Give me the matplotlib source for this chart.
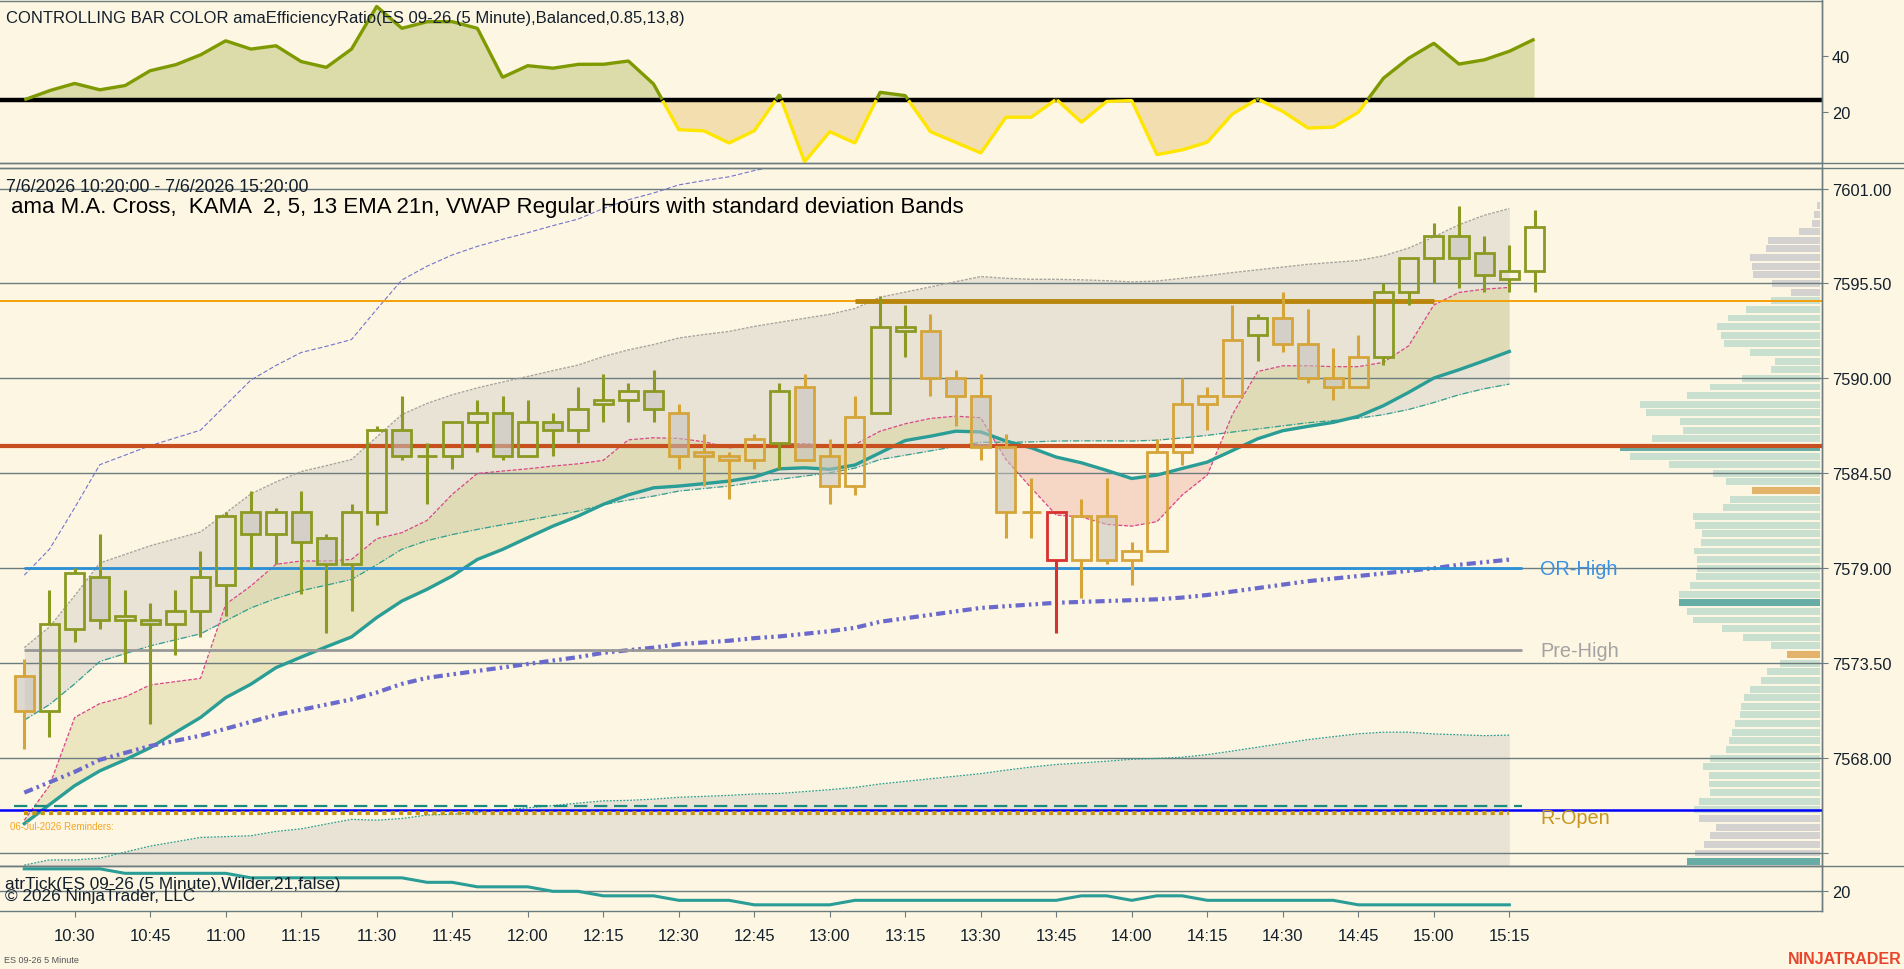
import numpy as np
import pandas as pd
import matplotlib
matplotlib.use('Agg')
import matplotlib.pyplot as plt
from matplotlib.patches import Rectangle
from matplotlib.lines import Line2D

plt.rcParams['font.family'] = ['Liberation Sans', 'DejaVu Sans']

# ---- data --------------------------------------------------------------
bar_times = pd.date_range('2026-07-06 10:20', '2026-07-06 15:20', freq='5min')

opens = [7572.75, 7570.75, 7575.5, 7578.5, 7576.0, 7576.0, 7575.75, 7576.5, 7578.0, 7582.25,
         7581.0, 7582.25, 7580.75, 7579.25, 7582.25, 7587.0, 7585.5, 7585.5, 7587.5, 7588.0,
         7585.5, 7587.5, 7587.0, 7588.5, 7588.75, 7589.25, 7588.0, 7585.75, 7585.5, 7585.25,
         7586.25, 7589.5, 7585.5, 7583.75, 7588.0, 7592.75, 7592.75, 7590.0, 7589.0, 7586.0,
         7582.25, 7579.5, 7579.5, 7582.0, 7579.5, 7580.0, 7585.75, 7588.5, 7589.0, 7592.5,
         7593.5, 7592.0, 7590.0, 7589.5, 7591.25, 7595.0, 7597.0, 7598.25, 7597.25, 7595.75,
         7596.25]
highs = [7573.75, 7577.75, 7579.0, 7581.0, 7577.75, 7577.0, 7577.75, 7580.0, 7582.25, 7583.5,
         7582.5, 7583.5, 7581.0, 7582.75, 7587.25, 7589.0, 7586.25, 7587.5, 7588.75, 7589.0,
         7588.75, 7588.0, 7589.5, 7590.25, 7589.75, 7590.5, 7588.5, 7586.75, 7585.75, 7586.75,
         7589.75, 7590.25, 7586.5, 7589.0, 7594.75, 7594.25, 7593.75, 7590.5, 7590.25, 7586.75,
         7584.25, 7582.25, 7583.0, 7584.25, 7580.5, 7586.5, 7590.0, 7589.5, 7594.25, 7593.75,
         7595.0, 7594.0, 7591.75, 7592.5, 7595.5, 7597.0, 7599.0, 7600.0, 7598.25, 7597.75,
         7599.75]
lows = [7568.5, 7569.25, 7574.75, 7575.5, 7573.5, 7570.0, 7574.0, 7575.0, 7576.25, 7579.0,
        7579.25, 7577.5, 7575.25, 7576.5, 7581.5, 7585.25, 7582.75, 7584.75, 7585.75, 7585.25,
        7585.5, 7585.5, 7586.25, 7587.5, 7587.5, 7587.5, 7584.75, 7583.75, 7583.0, 7584.75,
        7584.75, 7585.25, 7582.75, 7583.25, 7588.0, 7591.25, 7589.0, 7587.25, 7585.25, 7580.75,
        7580.75, 7575.25, 7577.25, 7579.25, 7578.0, 7580.0, 7585.0, 7587.0, 7589.0, 7591.0,
        7591.5, 7589.75, 7588.75, 7589.5, 7590.75, 7594.25, 7595.5, 7595.25, 7595.0, 7595.0,
        7595.0]
closes = [7570.75, 7575.75, 7578.75, 7576.0, 7576.25, 7575.75, 7576.5, 7578.5, 7582.0, 7581.0,
          7582.25, 7580.5, 7579.25, 7582.25, 7587.0, 7585.5, 7585.5, 7587.5, 7588.0, 7585.5,
          7587.5, 7587.0, 7588.25, 7588.75, 7589.25, 7588.25, 7585.5, 7585.5, 7585.25, 7586.5,
          7589.25, 7585.25, 7583.75, 7587.75, 7593.0, 7593.0, 7590.0, 7589.0, 7586.0, 7582.25,
          7582.25, 7582.25, 7582.0, 7579.5, 7580.0, 7585.75, 7588.5, 7589.0, 7592.25, 7593.5,
          7592.0, 7590.0, 7589.5, 7591.25, 7595.0, 7597.0, 7598.25, 7597.0, 7596.0, 7596.25,
          7598.75]
# bar colour state: g = gold, o = olive, r = red signal bar
bar_state = ('g' + 'o' * 25 + 'gggg' + 'o' + 'ggg' + 'oo' + 'ggggg' + 'r'
             + 'ggggggg' + 'o' + 'gggg' + 'ooooooo')

# KAMA (slow, teal) and fast average (pink)
kama = [7564.2, 7565.3, 7566.4, 7567.26, 7567.9, 7568.6, 7569.48, 7570.35, 7571.5, 7572.28,
        7573.24, 7573.85, 7574.45, 7575.02, 7576.14, 7577.1, 7577.78, 7578.55, 7579.51, 7580.09,
        7580.77, 7581.44, 7582.02, 7582.7, 7583.25, 7583.66, 7583.76, 7583.9, 7584.05, 7584.28,
        7584.76, 7584.82, 7584.73, 7584.98, 7585.69, 7586.4, 7586.65, 7586.94, 7586.9, 7586.37,
        7585.98, 7585.44, 7585.11, 7584.67, 7584.2, 7584.4, 7584.78, 7585.15, 7585.82, 7586.5,
        7586.97, 7587.22, 7587.45, 7587.8, 7588.42, 7589.19, 7590.02, 7590.5, 7591.02, 7591.56]
fast = [7564.4, 7566.4, 7570.35, 7571.16, 7571.54, 7572.24, 7572.43, 7572.62, 7576.91, 7577.97,
        7579.23, 7579.42, 7579.42, 7579.51, 7580.71, 7581.06, 7581.77, 7583.28, 7584.49, 7584.63,
        7584.76, 7584.92, 7585.05, 7585.25, 7586.44, 7586.56, 7586.52, 7586.33, 7585.98, 7586.08,
        7586.21, 7586.21, 7586.13, 7586.17, 7586.94, 7587.37, 7587.68, 7587.81, 7587.72, 7585.3,
        7583.66, 7582.08, 7581.97, 7581.54, 7581.44, 7581.7, 7583.24, 7584.4, 7587.91, 7590.4,
        7590.73, 7590.73, 7590.68, 7590.68, 7590.93, 7591.89, 7594.25, 7594.98, 7595.17, 7595.27]
vwap = [7566.0, 7566.6, 7567.2, 7567.9, 7568.3, 7568.7, 7569.0, 7569.3, 7569.7, 7570.1,
        7570.5, 7570.8, 7571.1, 7571.4, 7571.8, 7572.3, 7572.65, 7572.85, 7573.05, 7573.25,
        7573.45, 7573.65, 7573.85, 7574.1, 7574.25, 7574.4, 7574.6, 7574.7, 7574.8, 7574.95,
        7575.05, 7575.2, 7575.35, 7575.55, 7575.9, 7576.1, 7576.3, 7576.5, 7576.7, 7576.8,
        7576.9, 7577.0, 7577.05, 7577.1, 7577.15, 7577.2, 7577.3, 7577.45, 7577.65, 7577.85,
        7578.05, 7578.25, 7578.4, 7578.55, 7578.7, 7578.85, 7579.0, 7579.2, 7579.35, 7579.5]
vwap_sd = [4.2, 4.5, 5.1, 5.7, 5.75, 5.8, 5.85, 5.9, 6.25, 6.6,
           6.75, 6.9, 6.92, 6.95, 7.4, 7.8, 7.95, 8.1, 8.2, 8.27,
           8.33, 8.4, 8.46, 8.58, 8.7, 8.78, 8.87, 8.92, 8.96, 9.03,
           9.1, 9.14, 9.18, 9.25, 9.4, 9.45, 9.5, 9.55, 9.6, 9.5,
           9.42, 9.37, 9.33, 9.28, 9.22, 9.22, 9.25, 9.25, 9.24, 9.22,
           9.2, 9.18, 9.16, 9.14, 9.2, 9.35, 9.6, 9.85, 10.05, 10.17]

# efficiency ratio (top panel)
eff_ratio = [24.3, 27.6, 30.2, 27.9, 29.4, 34.8, 36.9, 40.5, 45.6, 42.6,
             43.8, 38.1, 36.0, 42.6, 58.0, 50.1, 52.5, 52.5, 50.1, 32.4,
             36.6, 35.7, 37.1, 37.1, 38.3, 30.0, 13.5, 13.1, 8.7, 13.1,
             26.1, 1.95, 12.8, 8.7, 27.0, 25.8, 12.8, 8.95, 5.1, 18.0,
             18.0, 24.5, 16.2, 23.7, 24.0, 4.5, 6.2, 9.0, 19.2, 24.6,
             20.1, 14.1, 14.4, 19.8, 32.1, 39.3, 44.7, 37.2, 38.7, 41.8, 46.2]
er_threshold = 24.3

# atr in ticks (bottom panel)
atr_ticks = [25, 25, 25, 25, 24, 24, 24, 24, 24, 23, 23, 23, 23, 23, 23, 23, 22, 22, 21, 21,
             21, 20, 20, 19, 19, 19, 18, 18, 18, 17, 17, 17, 17, 18, 18, 18, 18, 18, 18, 18,
             18, 18, 19, 19, 18, 19, 19, 18, 18, 18, 18, 18, 18, 17, 17, 17, 17, 17, 17, 17]

# volume profile, 0.5 pt rows from 7600.0 down to 7562.0
vp_levels = np.arange(7600.0, 7561.9, -0.5)
vp_volume = [9, 18, 24, 63, 156, 162, 210, 204, 201, 144, 87, 147, 222, 276, 309, 297,
             288, 210, 135, 147, 234, 330, 399, 540, 522, 420, 411, 504, 600, 570, 453, 321,
             282, 204, 270, 291, 381, 375, 354, 357, 378, 369, 369, 372, 390, 423, 423, 399,
             381, 294, 231, 147, 99, 120, 159, 177, 210, 228, 237, 240, 255, 264, 273, 282,
             330, 351, 333, 333, 330, 363, 378, 363, 312, 330, 348, 375, 399]
vp_dark = [7586.0, 7577.0, 7562.0]
vp_tan = [7583.5, 7574.0]
vp_area = (7565.0, 7594.5)

# key levels
rth_high_line = 7594.5
rth_high_seg = (33, 56)
poc_line = 7586.06
or_high = 7579.0
pre_high = 7574.25
r_open = 7565.0
dash_level = 7565.25
dot_level = 7564.8

price_ticks = [7601.0, 7595.5, 7590.0, 7584.5, 7579.0, 7573.5, 7568.0, 7562.5]

# ---- styling ------------------------------------------------------------
BG = '#fdf6e3'
GRID = '#6d7c7e'
OLIVE = '#8a9a22'
GOLD = '#d6a53a'
RED = '#d93030'
TXT = '#13202c'
W, H = 1904, 970
AX_R = 1822 / W
BAR_PX = 25.17
XMIN = -24.3 / BAR_PX
XMAX = XMIN + 1822 / BAR_PX

fig = plt.figure(figsize=(W / 100, H / 100), dpi=100)
fig.patch.set_facecolor(BG)

def panel(top_px, bot_px):
    ax = fig.add_axes([0, 1 - bot_px / H, AX_R, (bot_px - top_px) / H])
    ax.set_facecolor(BG)
    ax.set_xlim(XMIN, XMAX)
    ax.yaxis.tick_right()
    ax.spines['left'].set_visible(False)
    for s in ['top', 'bottom', 'right']:
        ax.spines[s].set_color(GRID)
        ax.spines[s].set_linewidth(1)
    ax.tick_params(axis='y', direction='out', length=4, color=GRID, labelcolor=TXT,
                   labelsize=11.8, pad=3)
    ax.tick_params(axis='x', bottom=False, labelbottom=False)
    return ax

ax_er = panel(1.7, 164.3)
ax_p = panel(169, 867.3)
ax_atr = panel(867.3, 912.3)

# ---- top panel: efficiency ratio ----------------------------------------
n_all = np.arange(len(eff_ratio))
er = np.array(eff_ratio)
ax_er.set_ylim(1.37, 60.07)
ax_er.set_yticks([20, 40])
ax_er.fill_between(n_all, er, er_threshold, where=er >= er_threshold, interpolate=True,
                   color='#dcdcaa', lw=0, zorder=1)
ax_er.fill_between(n_all, er, er_threshold, where=er < er_threshold, interpolate=True,
                   color='#f3deb0', lw=0, zorder=1)
ax_er.axhline(er_threshold, color='black', lw=3.2, zorder=2)
xs = np.linspace(0, n_all[-1], len(n_all) * 40)
ys = np.interp(xs, n_all, er)
ax_er.plot(xs, np.ma.masked_where(ys < er_threshold, ys), color='#7f9a00', lw=2.4,
           solid_capstyle='butt', zorder=3)
ax_er.plot(xs, np.ma.masked_where(ys >= er_threshold, ys), color='#ffe600', lw=2.4,
           solid_capstyle='butt', zorder=3)

# ---- price panel ---------------------------------------------------------
ax_p.set_ylim(7561.73, 7602.19)
ax_p.set_yticks(price_ticks)
ax_p.set_yticklabels([f'{v:.2f}' for v in price_ticks[:-1]] + [''])
for v in price_ticks:
    ax_p.axhline(v, color=GRID, lw=1, zorder=1)

n_ind = np.arange(len(vwap))
vw = np.array(vwap)
sd = np.array(vwap_sd)
ax_p.fill_between(n_ind, vw + sd, vw + 2 * sd, color='#c5c0bd', alpha=0.35, lw=0, zorder=0.6)
ax_p.fill_between(n_ind, vw - sd, vw - 2 * sd, color='#c5c0bd', alpha=0.35, lw=0, zorder=0.6)
ka = np.array(kama)
fa = np.array(fast)
ax_p.fill_between(n_ind, fa, ka, where=fa >= ka, interpolate=True, color='#d0d08b',
                  alpha=0.4, lw=0, zorder=0.7)
ax_p.fill_between(n_ind, fa, ka, where=fa < ka, interpolate=True, color='#f1bcad',
                  alpha=0.55, lw=0, zorder=0.7)

ax_p.plot(n_ind, vw + 3 * sd, color='#7474cc', lw=0.8, ls=(0, (4, 2)), zorder=2)
ax_p.plot(n_ind, vw + 2 * sd, color='#a9a6a0', lw=1.0, ls=(0, (2, 1)), zorder=2)
ax_p.plot(n_ind, vw + sd, color='#2f9e8f', lw=0.9, ls=(0, (5, 1.5, 1, 1.5)), zorder=2)
ax_p.plot(n_ind, vw - sd, color='#2f9e8f', lw=0.9, ls=(0, (1.5, 1.2)), zorder=2)
ax_p.plot(n_ind, fa, color='#d9468a', lw=0.9, ls=(0, (3, 1.5)), zorder=2.2)
ax_p.plot(n_ind, ka, color='#2a9d96', lw=2.4, zorder=2.4)
ax_p.plot(n_ind, vw, color='#6a6acd', lw=3, ls=(0, (2.2, 1.0, 0.6, 1.0, 0.6, 1.0)), zorder=2.4)

# key levels
ax_p.axhline(rth_high_line, color='#f5a00a', lw=1.4, zorder=3)
ax_p.hlines(rth_high_line, rth_high_seg[0], rth_high_seg[1], color='#b8860b', lw=3.5, zorder=3)
ax_p.axhline(poc_line, color='#c8501e', lw=3, zorder=3)
ax_p.hlines(or_high, 0, 59.5, color='#2b8fd6', lw=2, zorder=3)
ax_p.hlines(pre_high, 0, 59.5, color='#999999', lw=2, zorder=3)
ax_p.hlines(dash_level, -0.4, 59.5, color='#1a8a80', lw=1.6, ls=(0, (6, 3)), zorder=3)
ax_p.axhline(r_open, color='#0000ff', lw=1.8, zorder=3)
ax_p.hlines(dot_level, 0, 59, color='#c8960a', lw=3, ls=(0, (1, 1)), zorder=3)

label_x = (1540 - 24.3) / BAR_PX
ax_p.text(label_x, or_high, 'OR-High', color='#3d8fe0', fontsize=14.3, va='center', zorder=6)
ax_p.text(label_x, pre_high, 'Pre-High', color='#a3a3a3', fontsize=14.3, va='center', zorder=6)
ax_p.text(label_x, r_open - 0.45, 'R-Open', color='#c8961e', fontsize=14.3, va='center', zorder=6)
ax_p.text(-0.55, dot_level - 0.75, '06-Jul-2026 Reminders:', color='#f5a623', fontsize=7,
          va='center', zorder=6)

# volume profile
vp_right = (1820 - 24.3) / BAR_PX
vp_w = np.array(vp_volume) / 3 / BAR_PX
vp_colors = []
for lv in vp_levels:
    if any(abs(lv - d) < 1e-6 for d in vp_dark):
        vp_colors.append('#68aca6')
    elif any(abs(lv - d) < 1e-6 for d in vp_tan):
        vp_colors.append('#e3b36b')
    elif vp_area[0] <= lv <= vp_area[1]:
        vp_colors.append('#c9e0d0')
    else:
        vp_colors.append('#d3d2d0')
ax_p.barh(vp_levels, vp_w, left=vp_right - vp_w, height=0.4, color=vp_colors, lw=0, zorder=0.8)

# candles
body_w = 0.76
for i in range(len(opens)):
    o, h, l, c = opens[i], highs[i], lows[i], closes[i]
    col = {'g': GOLD, 'o': OLIVE, 'r': RED}[bar_state[i]]
    lo_b, hi_b = min(o, c), max(o, c)
    ax_p.vlines(i, l, lo_b, color=col, lw=2.2, zorder=5)
    ax_p.vlines(i, hi_b, h, color=col, lw=2.2, zorder=5)
    face = (0.765, 0.76, 0.74, 0.55) if c < o else 'none'
    ax_p.add_patch(Rectangle((i - body_w / 2, lo_b), body_w, hi_b - lo_b, facecolor=face,
                             edgecolor=col, lw=2.0, zorder=5.5))

# ---- bottom panel: atr -------------------------------------------------
ax_atr.set_ylim(15.56, 25.56)
ax_atr.set_yticks([20])
ax_atr.axhline(20, color=GRID, lw=1, zorder=1)
ax_atr.plot(np.arange(len(atr_ticks)), atr_ticks, color='#2a9d96', lw=2.2, zorder=3)

tick_idx = [i for i, t in enumerate(bar_times) if t.minute % 15 == 0]
ax_atr.set_xticks(tick_idx)
ax_atr.set_xticklabels([bar_times[i].strftime('%H:%M') for i in tick_idx])
ax_atr.tick_params(axis='x', bottom=True, labelbottom=True, direction='out', length=4,
                   color=GRID, labelcolor=TXT, labelsize=12, pad=8)

# ---- frame lines and texts -------------------------------------------
for ypx in [164.3, 169, 867.3]:
    fig.add_artist(Line2D([0, 1], [1 - ypx / H] * 2, transform=fig.transFigure,
                          color=GRID, lw=1))
fig.add_artist(Line2D([AX_R, AX_R], [1 - 912.3 / H, 1], transform=fig.transFigure,
                      color=GRID, lw=1))

def ftext(x, y, s, **kw):
    fig.text(x / W, 1 - y / H, s, va='center', **kw)

ftext(6, 18, 'CONTROLLING BAR COLOR amaEfficiencyRatio(ES 09-26 (5 Minute),Balanced,0.85,13,8)',
      color=TXT, fontsize=12)
ftext(6, 187, '7/6/2026 10:20:00 - 7/6/2026 15:20:00', color=TXT, fontsize=12.8)
ftext(11, 208, 'ama M.A. Cross,  KAMA  2, 5, 13 EMA 21n, VWAP Regular Hours with standard deviation Bands',
      color='black', fontsize=16)
ftext(5, 885, 'atrTick(ES 09-26 (5 Minute),Wilder,21,false)', color=TXT, fontsize=12.4)
ftext(5, 896, '\u00a9 2026 NinjaTrader, LLC', color=TXT, fontsize=12.4)
ftext(4, 961, 'ES 09-26 5 Minute', color='#555555', fontsize=6.5)
fig.text(1902 / W, 1 - 960 / H, 'NINJATRADER', color='#e8452c', fontsize=11.5,
         fontweight='bold', ha='right', va='center')

fig.savefig('out.png', dpi=100, facecolor=BG)
